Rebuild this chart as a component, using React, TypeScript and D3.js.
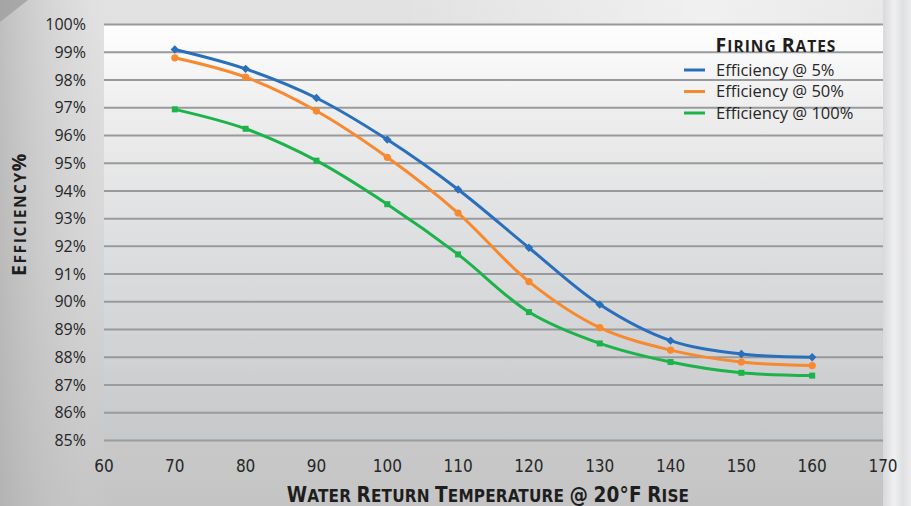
import React from "react";
import * as d3 from "d3";

const temps = [70, 80, 90, 100, 110, 120, 130, 140, 150, 160];
const eff5 = [99.1, 98.4, 97.35, 95.85, 94.05, 91.95, 89.9, 88.6, 88.12, 88.0];
const eff50 = [98.8, 98.1, 96.88, 95.21, 93.2, 90.73, 89.07, 88.26, 87.83, 87.7];
const eff100 = [96.94, 96.24, 95.09, 93.52, 91.71, 89.63, 88.5, 87.83, 87.44, 87.34];
const xTicks = [60, 70, 80, 90, 100, 110, 120, 130, 140, 150, 160, 170];
const yTicks = [85, 86, 87, 88, 89, 90, 91, 92, 93, 94, 95, 96, 97, 98, 99, 100];
const seriesNames = ["Efficiency @ 5%", "Efficiency @ 50%", "Efficiency @ 100%"];
const seriesColors = ["#2a6fbb", "#f7892f", "#1cb34b"];
const seriesMarkers = ["diamond", "circle", "square"];

const W = 911, H = 506;
const left = 104, right = 883, top = 24.5, bottom = 440.5;

function smallCaps(text: string, big: number, small: number) {
  const parts: React.ReactNode[] = [];
  text.split(" ").forEach((word, wi) => {
    if (wi > 0) parts.push(<tspan key={`sp${wi}`} fontSize={small}>{" "}</tspan>);
    let buf = "";
    let bufSmall = false;
    const flush = (k: string) => {
      if (buf) parts.push(<tspan key={k} fontSize={bufSmall ? small : big}>{buf.toUpperCase()}</tspan>);
      buf = "";
    };
    word.split("").forEach((ch, ci) => {
      const s = ch !== ch.toUpperCase();
      if (buf && s !== bufSmall) flush(`r${wi}-${ci}`);
      bufSmall = s;
      buf += ch;
    });
    flush(`r${wi}-end`);
  });
  return parts;
}

export default function App() {
  const x = d3.scaleLinear().domain([60, 170]).range([left, right]);
  const y = d3.scaleLinear().domain([85, 100]).range([bottom, top]);
  const allSeries = [eff5, eff50, eff100];
  const line = d3
    .line<number>()
    .x((_, i) => x(temps[i]))
    .y((d) => y(d))
    .curve(d3.curveCatmullRom.alpha(0.5));

  const marker = (type: string, cx: number, cy: number, color: string, key: string) => {
    if (type === "diamond") {
      const s = 4.2;
      return (
        <path key={key} d={`M${cx},${cy - s}L${cx + s},${cy}L${cx},${cy + s}L${cx - s},${cy}Z`} fill={color} />
      );
    }
    if (type === "circle") return <circle key={key} cx={cx} cy={cy} r={3.6} fill={color} />;
    return <rect key={key} x={cx - 3} y={cy - 3} width={6} height={6} fill={color} />;
  };

  const tickFont = "'Open Sans', 'Noto Sans', sans-serif";
  const condFont = "'Liberation Sans Narrow', 'DejaVu Sans Condensed', sans-serif";

  return (
    <svg width={W} height={H} style={{ position: "fixed", left: 0, top: 0 }}>
      <defs>
        <linearGradient id="bg" x1="0" y1="0" x2="0" y2="1">
          <stop offset="0" stopColor="#e2e2e2" />
          <stop offset="0.5" stopColor="#d6d6d6" />
          <stop offset="1" stopColor="#c4c4c4" />
        </linearGradient>
        <linearGradient id="leftShade" x1="0" y1="0" x2="1" y2="0">
          <stop offset="0" stopColor="#a8a8a8" stopOpacity="0.6" />
          <stop offset="0.7" stopColor="#c8c8c8" stopOpacity="0.2" />
          <stop offset="1" stopColor="#dcdcdc" stopOpacity="0" />
        </linearGradient>
        <linearGradient id="plotbg" x1="0" y1="0" x2="0" y2="1">
          <stop offset="0" stopColor="#ffffff" />
          <stop offset="0.2" stopColor="#eeeeef" />
          <stop offset="0.6" stopColor="#dadbdc" />
          <stop offset="1" stopColor="#c7c8ca" />
        </linearGradient>
        <linearGradient id="rightbg" x1="0" y1="0" x2="1" y2="0">
          <stop offset="0" stopColor="#d8d9db" />
          <stop offset="0.4" stopColor="#f0f0f1" />
          <stop offset="0.7" stopColor="#dfe0e2" />
          <stop offset="1" stopColor="#ececee" />
        </linearGradient>
        <linearGradient id="topStreak" x1="0" y1="0" x2="1" y2="0">
          <stop offset="0" stopColor="#ffffff" stopOpacity="0" />
          <stop offset="0.6" stopColor="#ffffff" stopOpacity="0.5" />
          <stop offset="1" stopColor="#ffffff" stopOpacity="0.2" />
        </linearGradient>
      </defs>
      <rect x={0} y={0} width={W} height={H} fill="url(#bg)" />
      <rect x={0} y={0} width={110} height={H} fill="url(#leftShade)" />
      <rect x={400} y={0} width={W - 400} height={top} fill="url(#topStreak)" />
      <rect x={right} y={0} width={W - right} height={H} fill="url(#rightbg)" />
      <path d="M0,0L28,0L0,22Z" fill="#9a9a9a" opacity={0.7} />
      <rect x={left} y={top} width={right - left} height={bottom - top} fill="url(#plotbg)" />
      {yTicks.map((t) => (
        <line key={`g${t}`} x1={left} x2={right} y1={y(t)} y2={y(t)} stroke="#999a9c" strokeWidth={2} />
      ))}
      {yTicks.map((t) => (
        <text
          key={`yl${t}`}
          x={86}
          y={y(t)}
          dy="0.35em"
          textAnchor="end"
          fontFamily={tickFont}
          fontSize={16}
          fill="#262626"
        >
          {t}%
        </text>
      ))}
      {xTicks.map((t) => (
        <text
          key={`xl${t}`}
          x={x(t)}
          y={466}
          dy="0.35em"
          textAnchor="middle"
          fontFamily={condFont}
          fontSize={17}
          fill="#262626"
        >
          {t}
        </text>
      ))}
      {allSeries.map((s, si) => (
        <g key={`s${si}`}>
          <path d={line(s) || ""} fill="none" stroke={seriesColors[si]} strokeWidth={3} />
          {s.map((v, i) => marker(seriesMarkers[si], x(temps[i]), y(v), seriesColors[si], `m${si}-${i}`))}
        </g>
      ))}
      <text
        x={776}
        y={46}
        dy="0.35em"
        textAnchor="middle"
        fontFamily={tickFont}
        fontWeight="bold"
        letterSpacing={1}
        fill="#1e1e1e"
      >
        {smallCaps("Firing Rates", 19.5, 15.5)}
      </text>
      {seriesNames.map((n, i) => (
        <g key={`lg${i}`}>
          <line x1={684} x2={705} y1={70 + i * 21.5} y2={70 + i * 21.5} stroke={seriesColors[i]} strokeWidth={3} />
          <text x={716} y={70 + i * 21.5} dy="0.35em" fontFamily={tickFont} fontSize={16.5} fill="#262626">
            {n}
          </text>
        </g>
      ))}
      <text
        transform="translate(20,214) rotate(-90)"
        textAnchor="middle"
        dy="0.35em"
        fontFamily={tickFont}
        fontWeight="bold"
        letterSpacing={1.6}
        fill="#1e1e1e"
      >
        {smallCaps("Efficiency%", 19.5, 15.5)}
      </text>
      <text
        x={488}
        y={496}
        dy="0.35em"
        textAnchor="middle"
        fontFamily={condFont}
        fontWeight="bold"
        letterSpacing={0.15}
        fill="#1e1e1e"
      >
        {smallCaps("Water Return Temperature @ 20°F Rise", 20.5, 17)}
      </text>
    </svg>
  );
}
